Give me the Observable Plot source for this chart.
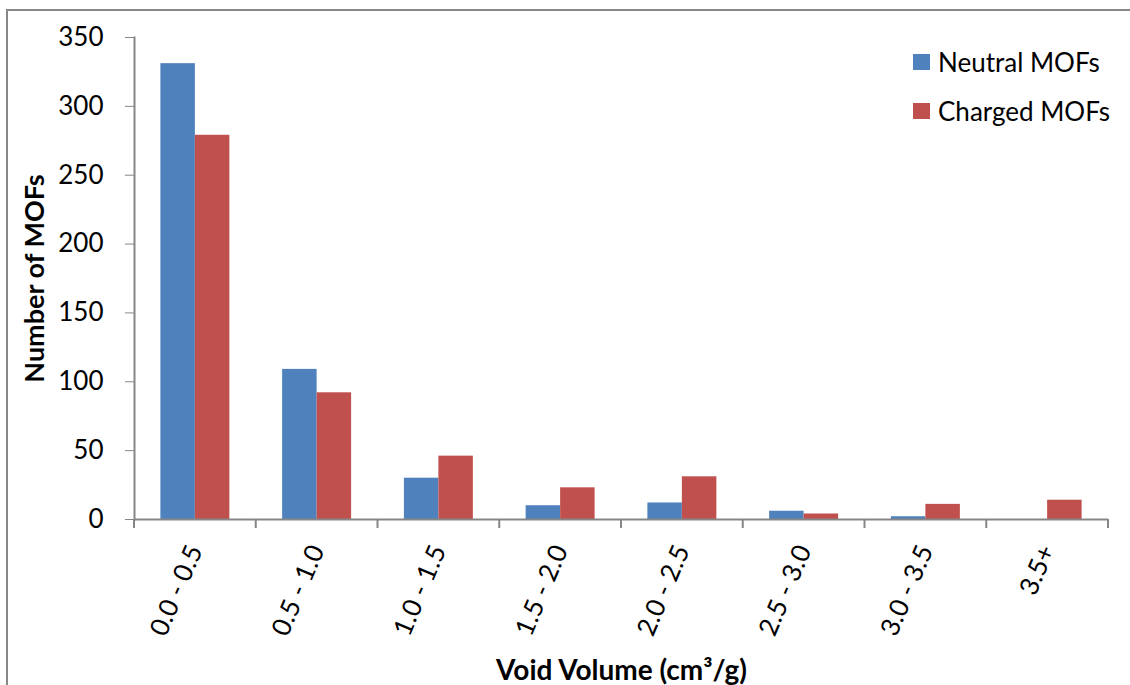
<!DOCTYPE html>
<html>
<head>
<meta charset="utf-8">
<script src="https://cdn.jsdelivr.net/npm/d3@7"></script>
<script src="https://cdn.jsdelivr.net/npm/@observablehq/plot@0.6"></script>
<style>
  body { margin: 0; background: #fff; }
  #chart { position: relative; width: 1130px; height: 685px; overflow: hidden; font-family: Lato, "Open Sans", sans-serif; }
  #border { position: absolute; left: 6px; top: 9px; width: 1300px; height: 900px; border: 2px solid #888; box-sizing: border-box; pointer-events: none; }
  #legend { position: absolute; left: 913px; top: 37px; font-size: 26px; color: #000; }
  #legend .row { display: flex; align-items: center; height: 49px; }
  #legend .sw { width: 17px; height: 16px; margin-right: 8px; }
  g[aria-label="y-axis label"] text { font-weight: bold; font-size: 27px; }
  g[aria-label="fx-axis label"] text { font-weight: bold; font-size: 28px; }
</style>
</head>
<body>
<div id="chart"><div id="border"></div></div>
<script>
// Void volume bins and the number of MOFs in each
const categories = ["0.0 - 0.5", "0.5 - 1.0", "1.0 - 1.5", "1.5 - 2.0", "2.0 - 2.5", "2.5 - 3.0", "3.0 - 3.5", "3.5+"];
const neutral = [331, 109, 30, 10, 12, 6, 2, 0];
const charged = [279, 92, 46, 23, 31, 4, 11, 14];
const seriesNames = ["Neutral MOFs", "Charged MOFs"];
const seriesColors = ["#4F81BD", "#C0504D"];
const yTicks = [0, 50, 100, 150, 200, 250, 300, 350];

// Long-format rows for grouped bars: one facet per bin, one bar per series
const rows = categories.flatMap((c, i) => [
  {category: c, series: seriesNames[0], value: neutral[i]},
  {category: c, series: seriesNames[1], value: charged[i]}
]);

const axisGray = "#868686";

const plot = Plot.plot({
  width: 1130,
  height: 685,
  marginLeft: 134,
  marginRight: 22,
  marginTop: 37,
  marginBottom: 166,
  style: {fontFamily: "Lato, 'Open Sans', sans-serif", fontSize: "26px", color: "#000", background: "transparent"},
  fx: {domain: categories, padding: 0, round: false},
  x: {domain: seriesNames, paddingInner: 0, paddingOuter: 0.765, round: false, axis: null},
  y: {domain: [0, 350], ticks: yTicks},
  color: {domain: seriesNames, range: seriesColors},
  marks: [
    Plot.barY(rows, {fx: "category", x: "series", y: "value", fill: "series"}),
    Plot.ruleY([0], {stroke: axisGray, strokeWidth: 2}),
    Plot.frame({anchor: "left", facetAnchor: "left", stroke: axisGray, strokeWidth: 2}),
    Plot.axisY({
      ticks: yTicks, tickSize: 9, tickPadding: 22, stroke: axisGray, fill: "#000",
      label: "Number of MOFs", labelAnchor: "center", labelArrow: "none", labelOffset: 110
    }),
    Plot.axisFx({
      anchor: "bottom", tickSize: 0, tickPadding: 27, tickRotate: -67, fill: "#000",
      label: "Void Volume (cm³/g)", labelAnchor: "center", labelArrow: "none", labelOffset: 160
    })
  ]
});

const chart = document.getElementById("chart");
chart.insertBefore(plot, chart.firstChild);

// Tick marks under the x axis at the edges of each bin
const fx = plot.scale("fx");
const y = plot.scale("y");
const y0 = y.apply(0);
const bounds = categories.map((c) => fx.apply(c)).concat([fx.apply(categories[categories.length - 1]) + fx.bandwidth]);
d3.select(plot).append("g")
  .attr("stroke", axisGray)
  .attr("stroke-width", 2)
  .selectAll("line")
  .data(bounds)
  .join("line")
  .attr("x1", (d) => d).attr("x2", (d) => d)
  .attr("y1", y0).attr("y2", y0 + 9);

// Legend, coloured from the plot's color scale
const color = plot.scale("color");
const legend = d3.select(chart).append("div").attr("id", "legend");
const item = legend.selectAll("div").data(seriesNames).join("div").attr("class", "row");
item.append("div").attr("class", "sw").style("background", (d) => color.apply(d));
item.append("span").text((d) => d);
</script>
</body>
</html>
